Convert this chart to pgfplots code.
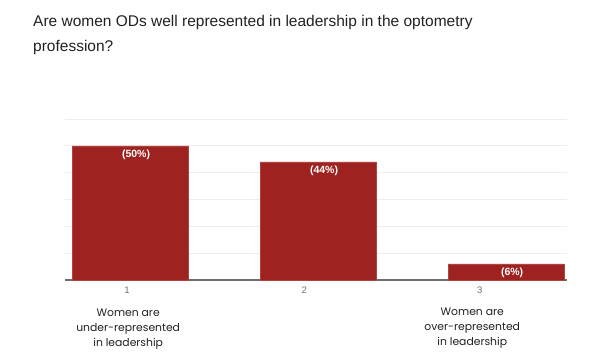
\documentclass[border=0pt]{standalone}
\usepackage{pgfplots}
\pgfplotsset{compat=1.18}
\usepackage{fontspec}
\setmainfont{Liberation Sans}
\newfontfamily\gothic{Poppins}
\definecolor{barred}{RGB}{158,35,32}
\definecolor{titlegray}{RGB}{33,33,33}
\definecolor{gridgray}{RGB}{236,236,236}
\definecolor{basegray}{RGB}{110,110,110}
\begin{document}
\begin{tikzpicture}
\begin{axis}[
  at={(65pt,-280pt)}, anchor=south west,
  scale only axis, width=502pt, height=161pt,
  xmin=-0.346, xmax=2.324, ymin=0, ymax=60,
  ybar, bar width=116pt,
  axis line style={draw=none},
  major tick length=0pt,
  /pgf/number format/assume math mode=true,
  ytick={10,20,30,40,50,60}, yticklabels={},
  ymajorgrids, grid style={draw=gridgray, line width=0.8pt},
  extra y ticks={0}, extra y tick labels={},
  extra y tick style={grid style={draw=basegray, line width=1.3pt}},
  xtick={-0.016,0.926,1.86}, xticklabels={\mbox{1},\mbox{2},\mbox{3}},
  xticklabel style={font=\fontsize{9.5}{11}\selectfont, text=basegray, yshift=-3pt},
  nodes near coords={(\pgfmathprintnumber[assume math mode=true]{\pgfplotspointmeta}\%)},
  every node near coord/.append style={anchor=north, inner sep=0pt, yshift=-4pt, xshift=6pt, text=white, font=\bfseries\fontsize{10.5}{12}\selectfont},
  clip=false,
]
\addplot[fill=barred, draw=barred!85!white, line width=0.6pt] coordinates {(0,50) (1,44) (2,6)};
\node[anchor=north, inner sep=0pt, align=center, font=\gothic\fontsize{10.8}{15}\selectfont, text=titlegray] at (axis cs:-0.01,0) [yshift=-29pt] {Women are\\under-represented\\in leadership};
\node[anchor=north, inner sep=0pt, align=center, font=\gothic\fontsize{10.8}{15}\selectfont, text=titlegray] at (axis cs:1.82,0) [yshift=-28pt] {Women are\\over-represented\\in leadership};
\end{axis}
\node[anchor=base west, inner sep=0pt, text=titlegray, font=\fontsize{15.5}{24}\selectfont] at (33pt,-27pt) {Are women ODs well represented in leadership in the optometry};
\node[anchor=base west, inner sep=0pt, text=titlegray, font=\fontsize{15.5}{24}\selectfont] at (33pt,-51pt) {profession?};
\pgfresetboundingbox
\path[use as bounding box] (0pt,0pt) rectangle (600pt,-364pt);
\end{tikzpicture}
\end{document}
